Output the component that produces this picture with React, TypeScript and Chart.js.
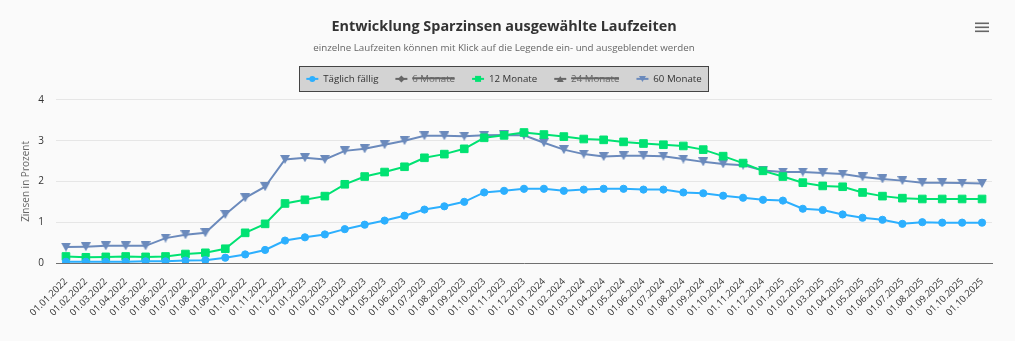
import React, { useEffect, useRef } from "react";
import { Chart, registerables } from "chart.js";

Chart.register(...registerables);

const labels: string[] = [
  "01.01.2022", "01.02.2022", "01.03.2022", "01.04.2022", "01.05.2022", "01.06.2022",
  "01.07.2022", "01.08.2022", "01.09.2022", "01.10.2022", "01.11.2022", "01.12.2022",
  "01.01.2023", "01.02.2023", "01.03.2023", "01.04.2023", "01.05.2023", "01.06.2023",
  "01.07.2023", "01.08.2023", "01.09.2023", "01.10.2023", "01.11.2023", "01.12.2023",
  "01.01.2024", "01.02.2024", "01.03.2024", "01.04.2024", "01.05.2024", "01.06.2024",
  "01.07.2024", "01.08.2024", "01.09.2024", "01.10.2024", "01.11.2024", "01.12.2024",
  "01.01.2025", "01.02.2025", "01.03.2025", "01.04.2025", "01.05.2025", "01.06.2025",
  "01.07.2025", "01.08.2025", "01.09.2025", "01.10.2025", "01.10.2025",
];

const taeglichFaellig: number[] = [
  0.03, 0.03, 0.03, 0.03, 0.04, 0.04, 0.06, 0.07, 0.13, 0.21, 0.32, 0.55,
  0.63, 0.70, 0.83, 0.94, 1.04, 1.16, 1.31, 1.39, 1.50, 1.73, 1.77, 1.82,
  1.82, 1.77, 1.80, 1.82, 1.82, 1.80, 1.80, 1.73, 1.71, 1.65, 1.60, 1.55,
  1.53, 1.33, 1.30, 1.19, 1.11, 1.06, 0.96, 1.00, 0.99, 0.99, 0.99,
];

// hidden in the reference (legend items struck through) - values not visible
const monate6: number[] = [];

const monate12: number[] = [
  0.16, 0.14, 0.15, 0.16, 0.15, 0.16, 0.22, 0.25, 0.35, 0.74, 0.96, 1.46,
  1.55, 1.64, 1.93, 2.12, 2.23, 2.36, 2.58, 2.67, 2.80, 3.07, 3.13, 3.20,
  3.15, 3.10, 3.04, 3.02, 2.97, 2.93, 2.90, 2.87, 2.78, 2.62, 2.45, 2.26,
  2.12, 1.97, 1.89, 1.87, 1.73, 1.64, 1.59, 1.57, 1.57, 1.57, 1.57,
];

// hidden in the reference (legend items struck through) - values not visible
const monate24: number[] = [];

const monate60: number[] = [
  0.39, 0.40, 0.42, 0.42, 0.42, 0.61, 0.69, 0.74, 1.19, 1.60, 1.87, 2.54,
  2.58, 2.54, 2.75, 2.80, 2.90, 3.00, 3.12, 3.12, 3.11, 3.13, 3.14, 3.13,
  2.95, 2.78, 2.67, 2.61, 2.63, 2.63, 2.62, 2.55, 2.48, 2.43, 2.40, 2.27,
  2.23, 2.23, 2.21, 2.18, 2.11, 2.06, 2.02, 1.97, 1.97, 1.96, 1.95,
];

const yTicks: number[] = [0, 1, 2, 3, 4];

const FONT = "'Open Sans', 'Noto Sans', sans-serif";

function triangleDown(color: string, w: number, h: number) {
  const c = document.createElement("canvas");
  c.width = w;
  c.height = h;
  const g = c.getContext("2d")!;
  g.fillStyle = color;
  g.beginPath();
  g.moveTo(0, 0);
  g.lineTo(w, 0);
  g.lineTo(w / 2, h);
  g.closePath();
  g.fill();
  return c;
}

function drawIconMarker(ctx: CanvasRenderingContext2D, shape: string, x: number, y: number, color: string) {
  ctx.fillStyle = color;
  ctx.beginPath();
  if (shape === "circle") {
    ctx.arc(x, y, 3, 0, Math.PI * 2);
  } else if (shape === "square") {
    ctx.rect(x - 3, y - 3, 6, 6);
  } else if (shape === "diamond") {
    ctx.moveTo(x, y - 3.5);
    ctx.lineTo(x + 3.5, y);
    ctx.lineTo(x, y + 3.5);
    ctx.lineTo(x - 3.5, y);
    ctx.closePath();
  } else if (shape === "triangle") {
    ctx.moveTo(x, y - 3);
    ctx.lineTo(x + 3.5, y + 3);
    ctx.lineTo(x - 3.5, y + 3);
    ctx.closePath();
  } else if (shape === "triangleDown") {
    ctx.moveTo(x - 3.5, y - 3);
    ctx.lineTo(x + 3.5, y - 3);
    ctx.lineTo(x, y + 3);
    ctx.closePath();
  }
  ctx.fill();
}

const decorPlugin = {
  id: "decor",
  beforeDraw(chart: any) {
    const ctx: CanvasRenderingContext2D = chart.ctx;
    const lg = chart.legend;
    const hb = lg && lg.legendHitBoxes;
    if (!hb || !hb.length) return;
    const first = hb[0];
    const last = hb[hb.length - 1];
    const yc = first.top + first.height / 2;
    const x0 = Math.round(first.left - 7) + 0.5;
    const x1 = Math.round(last.left + last.width + 6) + 0.5;
    const y0 = Math.round(yc - 12.5) + 0.5;
    const y1 = Math.round(yc + 12) + 0.5;
    ctx.save();
    ctx.fillStyle = "#d3d3d3";
    ctx.fillRect(x0, y0, x1 - x0, y1 - y0);
    ctx.strokeStyle = "#444444";
    ctx.lineWidth = 1;
    ctx.strokeRect(x0, y0, x1 - x0, y1 - y0);
    hb.forEach((box: any, i: number) => {
      const ds: any = chart.data.datasets[i];
      const visible = chart.isDatasetVisible(i);
      const color = visible ? ds.borderColor : "#666666";
      const y = box.top + box.height / 2;
      ctx.strokeStyle = color;
      ctx.lineWidth = 2;
      ctx.beginPath();
      ctx.moveTo(box.left, y);
      ctx.lineTo(box.left + 12, y);
      ctx.stroke();
      drawIconMarker(ctx, ds.iconShape, box.left + 6, y, color);
    });
    ctx.restore();
  },
  afterDraw(chart: any) {
    const ctx: CanvasRenderingContext2D = chart.ctx;
    ctx.save();
    ctx.fillStyle = "#666666";
    ctx.fillRect(975, 22.5, 14, 1.6);
    ctx.fillRect(975, 26.5, 14, 1.6);
    ctx.fillRect(975, 30.5, 14, 1.6);
    ctx.restore();
  },
};

export default function App() {
  const canvasRef = useRef<HTMLCanvasElement | null>(null);

  useEffect(() => {
    document.body.style.margin = "0";
    const canvas = canvasRef.current;
    if (!canvas) return;
    Chart.defaults.font.family = FONT;

    const tri = triangleDown("#6b8abc", 10, 9);

    const chart = new Chart(canvas, {
      type: "line",
      data: {
        labels,
        datasets: [
          {
            label: "Täglich fällig",
            data: taeglichFaellig,
            borderColor: "#2caffe",
            backgroundColor: "#2caffe",
            pointBackgroundColor: "#2caffe",
            pointBorderColor: "#2caffe",
            pointStyle: "circle",
            pointRadius: 3.6,
            pointBorderWidth: 1,
            borderWidth: 2,
            tension: 0,
            iconShape: "circle",
          } as any,
          {
            label: "6 Monate",
            data: monate6,
            borderColor: "#544fc5",
            backgroundColor: "#544fc5",
            pointStyle: "rectRot",
            pointRadius: 5,
            borderWidth: 2,
            hidden: true,
            iconShape: "diamond",
          } as any,
          {
            label: "12 Monate",
            data: monate12,
            borderColor: "#00e272",
            backgroundColor: "#00e272",
            pointBackgroundColor: "#00e272",
            pointBorderColor: "#00e272",
            pointStyle: "rect",
            pointRadius: 5.4,
            pointBorderWidth: 1,
            borderWidth: 2,
            tension: 0,
            iconShape: "square",
          } as any,
          {
            label: "24 Monate",
            data: monate24,
            borderColor: "#fe6a35",
            backgroundColor: "#fe6a35",
            pointStyle: "triangle",
            pointRadius: 5,
            borderWidth: 2,
            hidden: true,
            iconShape: "triangle",
          } as any,
          {
            label: "60 Monate",
            data: monate60,
            borderColor: "#6b8abc",
            backgroundColor: "#6b8abc",
            pointBackgroundColor: "#6b8abc",
            pointBorderColor: "#6b8abc",
            pointStyle: tri,
            pointRadius: 5,
            borderWidth: 2,
            tension: 0,
            iconShape: "triangleDown",
          } as any,
        ],
      },
      options: {
        animation: false,
        responsive: true,
        maintainAspectRatio: false,
        layout: { padding: { top: 0, left: 0, right: 7, bottom: 0 } },
        plugins: {
          title: {
            display: true,
            text: "Entwicklung Sparzinsen ausgewählte Laufzeiten",
            color: "#333333",
            font: { family: FONT, size: 14.4, weight: "bold", lineHeight: 1.2 },
            padding: { top: 17.9, bottom: 0 },
          },
          subtitle: {
            display: true,
            text: "einzelne Laufzeiten können mit Klick auf die Legende ein- und ausgeblendet werden",
            color: "#666666",
            font: { family: FONT, size: 9.75, lineHeight: 1.2 },
            padding: { top: 7.6, bottom: -3.6 },
          },
          legend: {
            display: true,
            position: "top",
            labels: {
              font: { family: FONT, size: 9.7 },
              color: "#333333",
              boxWidth: 12,
              boxHeight: 22,
              padding: 17,
              usePointStyle: false,
              generateLabels: (chart: any) =>
                chart.data.datasets.map((ds: any, i: number) => {
                  const visible = chart.isDatasetVisible(i);
                  return {
                    text: ds.label,
                    datasetIndex: i,
                    hidden: !visible,
                    fillStyle: "rgba(0,0,0,0)",
                    strokeStyle: "rgba(0,0,0,0)",
                    lineWidth: 0,
                    fontColor: visible ? "#333333" : "#666666",
                  };
                }),
            },
          },
          tooltip: { enabled: true },
        },
        scales: {
          x: {
            type: "category",
            offset: true,
            grid: { display: false, drawTicks: false },
            border: { display: true, color: "#707070", width: 1 },
            ticks: {
              autoSkip: false,
              minRotation: 45,
              maxRotation: 45,
              padding: 13,
              color: "#333333",
              font: { family: FONT, size: 9.5 },
            },
            afterFit: (s: any) => {
              s.height = 78;
            },
          },
          y: {
            type: "linear",
            position: "left",
            min: 0,
            max: 4,
            afterBuildTicks: (s: any) => {
              s.ticks = yTicks.map((v) => ({ value: v }));
            },
            grid: { color: "#e6e6e6", lineWidth: 1, drawTicks: false },
            border: { display: false },
            ticks: {
              padding: 12,
              color: "#333333",
              font: { family: FONT, size: 10 },
            },
            title: {
              display: true,
              text: "Zinsen in Prozent",
              color: "#666666",
              font: { family: FONT, size: 10, lineHeight: 1.2 },
              padding: { top: 20, bottom: 0 },
            },
            afterFit: (s: any) => {
              s.width = 56;
            },
          },
          y2: {
            type: "linear",
            position: "right",
            display: true,
            grid: { display: false, drawTicks: false },
            border: { display: false },
            ticks: { display: false },
            afterFit: (s: any) => {
              s.width = 16;
            },
          },
        },
      } as any,
      plugins: [decorPlugin],
    });

    return () => {
      chart.destroy();
    };
  }, []);

  return (
    <div
      style={{
        position: "absolute",
        left: 0,
        top: 0,
        width: 1015,
        height: 341,
        background: "#fafafa",
      }}
    >
      <canvas ref={canvasRef} />
    </div>
  );
}
